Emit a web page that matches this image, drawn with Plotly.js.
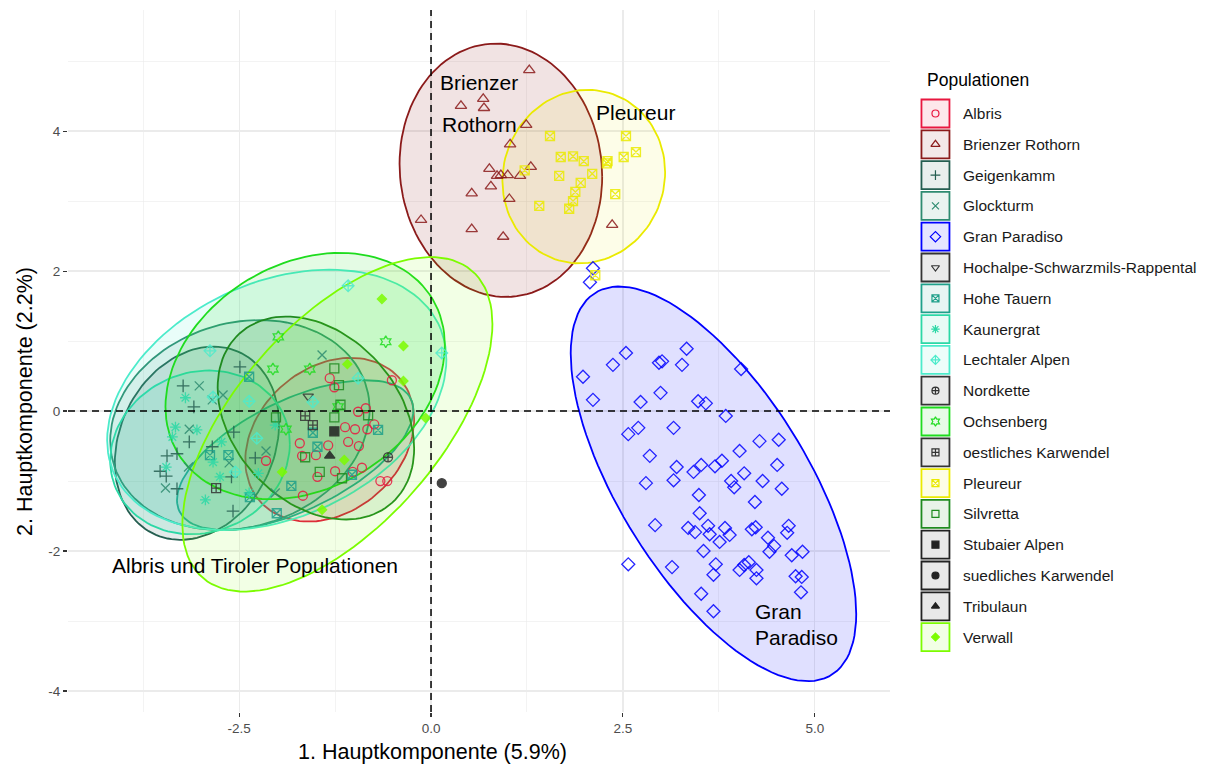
<!DOCTYPE html>
<html>
<head>
<meta charset="utf-8">
<script src="https://cdn.plot.ly/plotly-3.0.1.min.js"></script>
<style>html,body{margin:0;padding:0;background:#fff;}#chart{width:1210px;height:769px;}</style>
</head>
<body>
<div id="chart"></div>
<script>
// ---------- data ----------
const groupNames = ["Albris","Brienzer Rothorn","Geigenkamm","Glockturm","Gran Paradiso",
  "Hochalpe-Schwarzmils-Rappental","Hohe Tauern","Kaunergrat","Lechtaler Alpen","Nordkette",
  "Ochsenberg","oestliches Karwendel","Pleureur","Silvretta","Stubaier Alpen",
  "suedliches Karwendel","Tribulaun","Verwall"];
const groupColors = ["#E8173F","#8B1A1A","#245E50","#2E8B70","#0000FF",
  "#333333","#1FA08A","#2BD8A6","#4CEBCB","#333333",
  "#1EDC1E","#333333","#EAEA00","#1F8A1F","#222222",
  "#222222","#222222","#7CFC00"];
const groupSymbols = ["circle-open","triangle-up-open","cross-thin-open","x-thin-open","diamond-open",
  "triangle-down-open","square-x-open","asterisk-open","diamond-cross-open","circle-cross-open",
  "hexagram-open","square-cross-open","square-x-open","square-open","square",
  "circle","triangle-up","diamond"];

const xAlbris = [-1.32,-1.26,-0.95,-0.85,-0.74,-1.12,-0.99,-0.83,-0.94,-1.08,-1.34,-1.50,-1.71,-1.68,-2.15,-1.25,-1.48,-0.90,-1.02,-0.66,-0.57,-1.67,-0.51];
const yAlbris = [0.47,0.34,-0.01,0.04,-0.19,-0.23,-0.26,-0.26,-0.50,-0.44,-0.49,-0.63,-0.46,-0.64,-0.71,-0.86,-0.94,-0.81,-0.87,-1.00,-1.00,-1.21,0.44];

const xBrienzer = [1.28,0.39,0.68,0.69,1.24,1.03,0.76,0.86,0.91,1.00,1.16,1.30,0.78,0.53,1.02,-0.13,0.53,0.94,2.36];
const yBrienzer = [4.87,4.36,4.46,4.33,4.09,3.81,3.46,3.36,3.37,3.37,3.36,3.49,3.21,3.11,3.03,2.73,2.60,2.49,2.66];

const xGeigenkamm = [-2.49,-3.23,-3.09,-3.15,-3.44,-3.31,-3.45,-3.31,-2.57,-2.85,-2.60,-2.29,-2.58,-3.53];
const yGeigenkamm = [0.63,0.36,0.06,-0.44,-0.64,-0.61,-0.93,-1.11,-0.30,-0.51,-0.94,-0.67,-1.43,-0.86];

const xGlockturm = [-3.02,-2.71,-2.85,-3.15,-3.46,-3.16,-2.63,-2.15,-1.42,-2.03];
const yGlockturm = [0.36,0.23,0.16,-0.26,-1.10,-0.80,-0.74,-0.57,0.80,-1.17];

const xGranParadiso = [2.11,2.07,2.54,3.33,2.37,2.97,3.01,3.27,4.04,1.98,2.11,2.73,2.99,3.48,3.58,3.84,2.57,2.70,3.16,4.28,4.53,4.02,2.85,3.20,3.52,3.42,3.70,3.79,4.51,2.80,3.16,3.91,3.95,4.08,4.32,4.57,3.49,4.22,3.50,2.92,3.35,3.44,3.61,3.63,3.83,3.89,3.76,4.18,4.23,4.39,4.47,4.41,4.66,4.64,3.55,4.70,4.84,2.57,3.14,3.71,3.68,4.02,4.08,4.14,4.24,4.24,4.75,4.83,4.82,3.52,3.68];
const yGranParadiso = [2.04,1.84,0.83,0.89,0.66,0.69,0.71,0.66,0.60,0.49,0.16,0.13,0.26,0.14,0.11,-0.07,-0.33,-0.24,-0.24,-0.43,-0.41,-0.57,-0.64,-0.80,-0.77,-0.87,-0.79,-0.71,-0.77,-1.03,-0.99,-1.00,-1.09,-0.89,-1.00,-1.11,-1.20,-1.30,-1.46,-1.63,-1.67,-1.73,-1.64,-1.76,-1.67,-1.77,-1.87,-1.69,-1.66,-1.81,-1.93,-2.01,-1.64,-1.74,-2.00,-2.06,-2.01,-2.19,-2.23,-2.19,-2.34,-2.27,-2.20,-2.16,-2.27,-2.39,-2.36,-2.37,-2.59,-2.61,-2.86];

const xHochalpe = [-1.60];
const yHochalpe = [0.21];

const xHoheTauern = [-2.37,-2.88,-2.64,-1.82,-2.36,-2.01,-1.54,-1.48,-0.69,-1.03];
const yHoheTauern = [0.49,-0.63,-0.63,-1.07,-1.23,-1.46,-0.31,-0.51,-0.27,-0.91];

const xKaunergrat = [-3.20,-3.33,-3.37,-3.05,-3.45,-2.94,-2.84,-2.75,-2.37,-2.25,-2.03,-2.73];
const yKaunergrat = [0.19,-0.23,-0.37,-0.27,-0.80,-1.27,-0.73,-0.94,-1.17,-0.89,-0.20,-0.44];

const xLechtaler = [-1.08,0.14,-2.88,-2.84,-2.37,-2.27,-2.55,-1.54,-0.95];
const yLechtaler = [1.79,0.83,0.86,0.20,0.14,-0.39,-0.87,0.13,0.47];

const xNordkette = [-0.56];
const yNordkette = [-0.66];

const xOchsenberg = [-1.99,-2.06,-1.58,-0.59,-1.89,-1.21];
const yOchsenberg = [1.06,0.60,0.60,0.99,-0.26,0.06];

const xOestlKarwendel = [-1.54,-2.80,-1.64];
const yOestlKarwendel = [-0.20,-1.10,-0.07];

const xPleureur = [1.55,1.69,1.85,1.99,2.10,1.67,1.95,1.88,1.85,1.80,1.41,1.22,2.30,2.29,2.54,2.51,2.67,2.40,2.14];
const yPleureur = [3.93,3.63,3.64,3.57,3.39,3.36,3.26,3.13,3.00,2.89,2.93,3.44,3.57,3.54,3.93,3.63,3.70,3.10,1.94];

const xSilvretta = [-1.26,-1.20,-2.02,-1.18,-0.82,-1.64,-1.45,-1.16,-1.26];
const ySilvretta = [0.61,0.37,-0.09,0.09,-0.06,-0.66,-0.87,-0.96,-0.09];

const xStubaier = [-1.26];
const yStubaier = [-0.29];

const xSuedlKarwendel = [0.14];
const ySuedlKarwendel = [-1.03];

const xTribulaun = [-1.32];
const yTribulaun = [-0.64];

const xVerwall = [-0.64,-0.36,-1.09,-0.36,-0.07,-1.94,-1.13,-1.42];
const yVerwall = [1.60,0.93,0.67,0.43,-0.10,-0.87,-0.70,-1.41];

// 95% ellipses (centre, x/y extent, correlation)
const ellipseGroups = ["Albris","Brienzer Rothorn","Geigenkamm","Glockturm","Gran Paradiso","Hohe Tauern","Kaunergrat","Lechtaler Alpen","Ochsenberg","Pleureur","Silvretta","Verwall"];
const ellipseCX  = [-1.32, 0.91,-3.05,-2.49, 3.68,-1.77,-3.01,-2.01,-1.64, 1.99,-1.50,-1.22];
const ellipseCY  = [-0.41, 3.44,-0.46,-0.20,-1.04,-0.63,-0.59, 0.16, 0.50, 3.35,-0.10,-0.19];
const ellipseRX  = [ 1.10, 1.32, 1.07, 1.69, 1.86, 1.54, 1.17, 2.21, 1.82, 1.06, 1.28, 2.02];
const ellipseRY  = [ 1.17, 1.81, 1.38, 1.50, 2.82, 1.07, 1.17, 1.86, 1.76, 1.24, 1.45, 2.39];
const ellipseRho = [ 0.25,-0.05, 0.20, 0.15,-0.66, 0.60, 0.10, 0.31, 0.25, 0.05,-0.30, 0.60];
const ellipseFillAlpha = [0.12,0.12,0.12,0.12,0.12,0.12,0.12,0.12,0.12,0.09,0.12,0.10];

// text labels
const labelText = ["Brienzer","Rothorn","Pleureur","Albris und Tiroler Populationen","Gran","Paradiso"];
const labelX    = [0.625, 0.625, 2.67, -2.30, 4.19, 4.19];
const labelY    = [4.70, 4.10, 4.26, -2.21, -2.87, -3.23];
const labelAnchor = ["center","center","center","center","left","left"];

const xTickVals = [-2.5, 0, 2.5, 5];
const xTickText = ["-2.5","0.0","2.5","5.0"];
const yTickVals = [-4, -2, 0, 2, 4];
const yTickText = ["-4","-2","0","2","4"];

const xTitle = "1. Hauptkomponente (5.9%)";
const yTitle = "2. Hauptkomponente (2.2%)";
const legendTitle = "Populationen";

// ---------- build ----------
const pointsX = [xAlbris,xBrienzer,xGeigenkamm,xGlockturm,xGranParadiso,xHochalpe,xHoheTauern,xKaunergrat,xLechtaler,xNordkette,xOchsenberg,xOestlKarwendel,xPleureur,xSilvretta,xStubaier,xSuedlKarwendel,xTribulaun,xVerwall];
const pointsY = [yAlbris,yBrienzer,yGeigenkamm,yGlockturm,yGranParadiso,yHochalpe,yHoheTauern,yKaunergrat,yLechtaler,yNordkette,yOchsenberg,yOestlKarwendel,yPleureur,ySilvretta,yStubaier,ySuedlKarwendel,yTribulaun,yVerwall];

function rgba(hex, a){
  const h = hex.replace('#','');
  const r = parseInt(h.substr(0,2),16), g = parseInt(h.substr(2,2),16), b = parseInt(h.substr(4,2),16);
  return `rgba(${r},${g},${b},${a})`;
}
function markerSize(sym){
  if (sym === 'diamond') return 7;
  if (sym === 'triangle-up-open' || sym === 'diamond-open') return 10;
  return 9;
}

const FONT = "Liberation Sans, Arial, Helvetica, sans-serif";
const traces = [];

// ellipses
ellipseGroups.forEach((g, k) => {
  const ci = groupNames.indexOf(g);
  const col = groupColors[ci];
  const xs = [], ys = [];
  const s = Math.sqrt(1 - ellipseRho[k]*ellipseRho[k]);
  for (let i = 0; i <= 120; i++) {
    const t = 2*Math.PI*i/120;
    xs.push(ellipseCX[k] + ellipseRX[k]*Math.cos(t));
    ys.push(ellipseCY[k] + ellipseRY[k]*(ellipseRho[k]*Math.cos(t) + s*Math.sin(t)));
  }
  traces.push({type:'scatter', mode:'lines', x:xs, y:ys, fill:'toself',
    fillcolor: rgba(col, ellipseFillAlpha[k]), line:{color:col, width:1.8}, hoverinfo:'skip', xaxis:'x', yaxis:'y'});
});

// points
groupNames.forEach((g, i) => {
  const sym = groupSymbols[i];
  traces.push({type:'scatter', mode:'markers', name:g, x:pointsX[i], y:pointsY[i], xaxis:'x', yaxis:'y',
    marker:{symbol:sym, size:markerSize(sym), color:groupColors[i], opacity:0.85,
      line:{color:groupColors[i], width:1.3}}});
});

// custom legend (keys on a hidden axis pair measured in pixels)
const shapes = [];
const annotations = [];
const step = 30.8, y0 = 103.5, kx = 20.5, half = 14;
groupNames.forEach((g, i) => {
  const yc = y0 + i*step;
  shapes.push({type:'rect', xref:'x2', yref:'y2', x0:kx-half, x1:kx+half, y0:yc-half, y1:yc+half,
    line:{color:groupColors[i], width:1.8}, fillcolor: rgba(groupColors[i], 0.1), layer:'below'});
  traces.push({type:'scatter', mode:'markers', x:[kx], y:[yc], xaxis:'x2', yaxis:'y2', hoverinfo:'skip',
    marker:{symbol:groupSymbols[i], size:Math.max(6, markerSize(groupSymbols[i])-2), color:groupColors[i],
      line:{color:groupColors[i], width:1.2}}});
  annotations.push({xref:'x2', yref:'y2', x:46, y:yc, text:g, showarrow:false, xanchor:'left', yanchor:'middle',
    font:{family:FONT, size:15.5, color:'#1A1A1A'}});
});
annotations.push({xref:'x2', yref:'y2', x:10, y:70, text:legendTitle, showarrow:false, xanchor:'left', yanchor:'middle',
  font:{family:FONT, size:17.5, color:'#000'}});

// plot labels
labelText.forEach((t, i) => {
  annotations.push({xref:'x', yref:'y', x:labelX[i], y:labelY[i], text:t, showarrow:false,
    xanchor:labelAnchor[i], yanchor:'middle', font:{family:FONT, size:21, color:'#000'}});
});

// axis titles (placed as in the reference)
annotations.push({xref:'paper', yref:'paper', x:0.3224, y:-0.057, text:xTitle, showarrow:false,
  xanchor:'center', yanchor:'middle', font:{family:FONT, size:21.5, color:'#000'}});
annotations.push({xref:'paper', yref:'paper', x:-0.038, y:(712-401)/702, text:yTitle, showarrow:false, textangle:-90,
  xanchor:'center', yanchor:'middle', font:{family:FONT, size:21.5, color:'#000'}});

// dashed reference lines
shapes.push({type:'line', xref:'x', yref:'paper', x0:0, x1:0, y0:0, y1:1, line:{color:'#000', width:1.5, dash:'7px,5px'}, layer:'above'});
shapes.push({type:'line', xref:'paper', yref:'y', x0:0, x1:0.72615, y0:0, y1:0, line:{color:'#000', width:1.5, dash:'7px,5px'}, layer:'above'});

const axisCommon = {
  showgrid:true, gridcolor:'#EBEBEB', gridwidth:1.2, zeroline:false, showline:false,
  ticks:'outside', ticklen:4, tickwidth:1.1, tickcolor:'#333333',
  tickfont:{family:FONT, size:13.5, color:'#4D4D4D'}, automargin:false
};

const layout = {
  width:1210, height:769,
  margin:{l:68, r:10, t:10, b:57},
  paper_bgcolor:'#fff', plot_bgcolor:'#fff',
  showlegend:false,
  font:{family:FONT},
  xaxis: Object.assign({}, axisCommon, {
    domain:[0, 0.72615], range:[-4.73, 5.98], tickmode:'array', tickvals:xTickVals, ticktext:xTickText,
    minor:{tickvals:[-3.75,-1.25,1.25,3.75], showgrid:true, gridcolor:'#EBEBEB', gridwidth:0.6},
    anchor:'y'
  }),
  yaxis: Object.assign({}, axisCommon, {
    domain:[0,1], range:[-4.3, 5.73], tickmode:'array', tickvals:yTickVals, ticktext:yTickText,
    minor:{tickvals:[-3,-1,1,3,5], showgrid:true, gridcolor:'#EBEBEB', gridwidth:0.6},
    anchor:'x'
  }),
  xaxis2:{domain:[0.7482, 1], range:[0, 285], visible:false, anchor:'y2', fixedrange:true},
  yaxis2:{domain:[0, 1], range:[702, 0], visible:false, anchor:'x2', fixedrange:true},
  shapes: shapes,
  annotations: annotations
};

Plotly.newPlot('chart', traces, layout, {displayModeBar:false, staticPlot:true});
</script>
</body>
</html>
